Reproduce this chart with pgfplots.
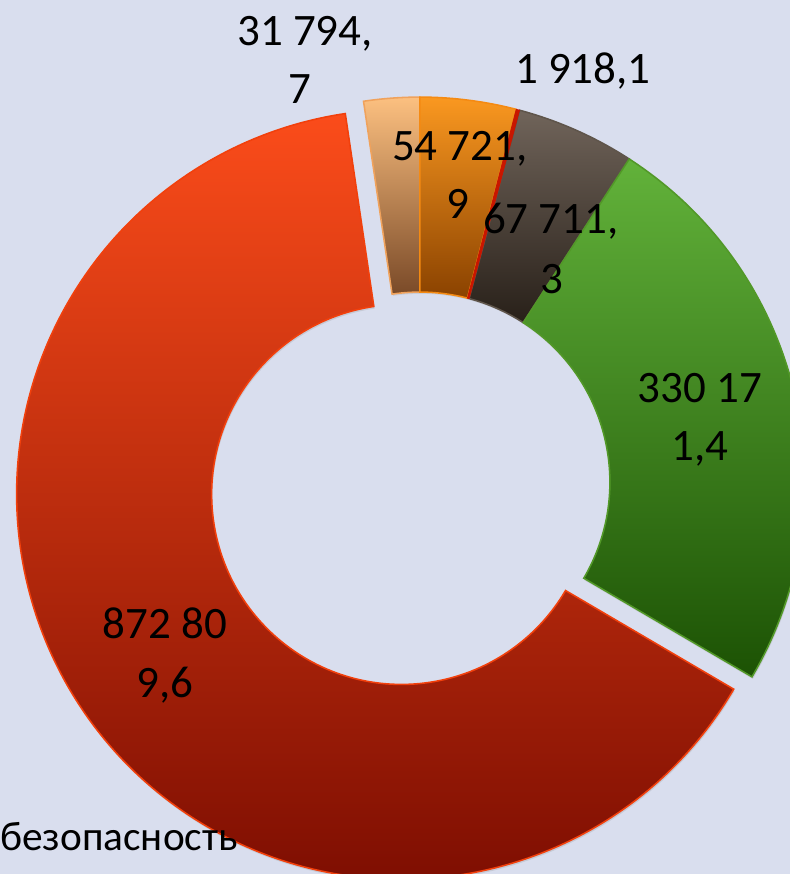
\documentclass[border=0pt]{standalone}
\usepackage{pgfplots}
\pgfplotsset{compat=1.18}
\usepackage{pgfplotstable}
\usetikzlibrary{calc,shadows}
\usepackage{fontspec}
\setmainfont{Carlito}

\definecolor{bg}{RGB}{217,222,238}
\definecolor{orT}{RGB}{250,152,32}
\definecolor{orB}{RGB}{138,66,0}
\definecolor{orD}{RGB}{245,138,18}
\definecolor{loT}{RGB}{252,192,128}
\definecolor{loB}{RGB}{122,74,40}
\definecolor{loD}{RGB}{240,162,92}
\definecolor{brT}{RGB}{112,100,90}
\definecolor{brB}{RGB}{40,32,25}
\definecolor{brD}{RGB}{95,85,75}
\definecolor{grT}{RGB}{98,178,58}
\definecolor{grM}{RGB}{62,135,22}
\definecolor{grB}{RGB}{28,82,4}
\definecolor{grD}{RGB}{82,152,40}
\definecolor{rdT}{RGB}{251,76,26}
\definecolor{rdM}{RGB}{208,42,2}
\definecolor{rdB}{RGB}{118,10,0}
\definecolor{rdD}{RGB}{242,64,12}
\definecolor{thin}{RGB}{200,22,0}

\pgfplotstableread{
value
54721.9
1918.1
67711.3
330171.4
872809.6
31794.7
}\pietable

\newcommand\getv[2]{\pgfplotstablegetelem{#1}{value}\of\pietable\let#2\pgfplotsretval}
\newcommand\Ro{9.625cm}
\newcommand\Ri{4.75cm}
\newcommand\slice[5]{%
  \path[#5] ($(axis cs:420,392)+(#3:#4)+({90-(#1)}:\Ro)$)
    arc[start angle={90-(#1)}, end angle={90-(#2)}, radius=\Ro]
    -- ($(axis cs:420,392)+(#3:#4)+({90-(#2)}:\Ri)$)
    arc[start angle={90-(#2)}, end angle={90-(#1)}, radius=\Ri] -- cycle;}
\newcommand\lbl{\fontsize{32}{38}\selectfont}

\begin{document}%
\getv{0}\vA \getv{1}\vB \getv{2}\vC \getv{3}\vD \getv{4}\vE \getv{5}\vF%
\edef\vT{\fpeval{\vA+\vB+\vC+\vD+\vE+\vF}}%
\edef\tA{\fpeval{round(360*(\vA)/\vT,4)}}%
\edef\tB{\fpeval{round(360*(\vA+\vB)/\vT,4)}}%
\edef\tC{\fpeval{round(360*(\vA+\vB+\vC)/\vT,4)}}%
\edef\tD{\fpeval{round(360*(\vA+\vB+\vC+\vD)/\vT,4)}}%
\edef\tE{\fpeval{round(360*(\vA+\vB+\vC+\vD+\vE)/\vT,4)}}%
\edef\tRed{\fpeval{round(90-(\tD+\tE)/2,4)}}%
\begin{tikzpicture}
\fill[bg] (0,0) rectangle (19.75cm,21.85cm);
\begin{scope}
\clip (0,0) rectangle (19.75cm,21.85cm);
\begin{axis}[
  x=0.025cm, y=0.025cm,
  xmin=0, xmax=790, ymin=0, ymax=874,
  hide axis, clip=false,
  at={(0,0)}, anchor=south west,
]
% slices (clockwise from 12 o'clock)
\slice{\tE}{360}{0}{0cm}{top color=loT, bottom color=loB, draw=loD, line width=1.1pt, drop shadow={shadow xshift=0.6pt,shadow yshift=-1.2pt,opacity=0.18}}
\slice{0}{\tA}{0}{0cm}{top color=orT, bottom color=orB, draw=orD, line width=1.1pt, drop shadow={shadow xshift=0.6pt,shadow yshift=-1.2pt,opacity=0.18}}
\slice{\tB}{\tC}{0}{0cm}{top color=brT, bottom color=brB, draw=brD, line width=1.1pt, drop shadow={shadow xshift=0.6pt,shadow yshift=-1.2pt,opacity=0.18}}
\slice{\tA}{\tB}{0}{0cm}{fill=thin, draw=thin, line width=0.6pt}
\slice{\tC}{\tD}{0}{0cm}{top color=grT, middle color=grM, bottom color=grB, draw=grD, line width=1.1pt, drop shadow={shadow xshift=0.6pt,shadow yshift=-1.5pt,opacity=0.22}}
\slice{\tD}{\tE}{\tRed}{0.55cm}{top color=rdT, middle color=rdM, bottom color=rdB, draw=rdD, line width=1.1pt, drop shadow={shadow xshift=0.6pt,shadow yshift=-1.5pt,opacity=0.22}}
% data labels
\node[anchor=base, inner sep=0, font=\lbl] at (axis cs:305,829) {31 794,};
\node[anchor=base, inner sep=0, font=\lbl] at (axis cs:300,771) {7};
\node[anchor=base, inner sep=0, font=\lbl] at (axis cs:583,791) {1 918,1};
\node[anchor=base, inner sep=0, font=\lbl] at (axis cs:460,714) {54 721,};
\node[anchor=base, inner sep=0, font=\lbl] at (axis cs:458,656) {9};
\node[anchor=base, inner sep=0, font=\lbl] at (axis cs:551,641) {67 711,};
\node[anchor=base, inner sep=0, font=\lbl] at (axis cs:552,581) {3};
\node[anchor=base, inner sep=0, font=\lbl] at (axis cs:700,472) {330 17};
\node[anchor=base, inner sep=0, font=\lbl] at (axis cs:700,414) {1,4};
\node[anchor=base, inner sep=0, font=\lbl] at (axis cs:165,236) {872 80};
\node[anchor=base, inner sep=0, font=\lbl] at (axis cs:165,177) {9,6};
\node[anchor=base west, inner sep=0, font=\fontsize{29.4}{34}\selectfont] at (axis cs:0,24) {безопасность};
\node[anchor=base west, inner sep=0, font=\bfseries\fontsize{46}{50}\selectfont] at (axis cs:585,885) {д};
\end{axis}
\end{scope}
\pgfresetboundingbox
\path[use as bounding box] (0,0) rectangle (19.75cm,21.85cm);
\end{tikzpicture}%
\end{document}
